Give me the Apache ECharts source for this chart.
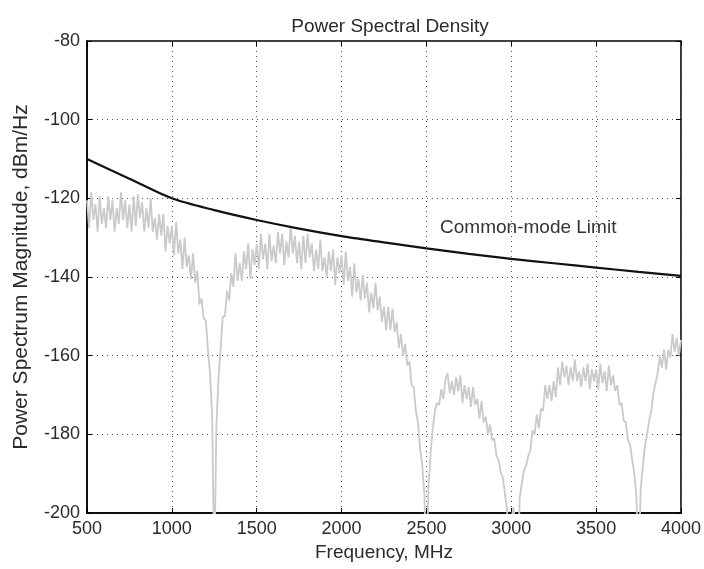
<!DOCTYPE html>
<html>
<head>
<meta charset="utf-8">
<script src="https://cdn.jsdelivr.net/npm/echarts@6/dist/echarts.min.js"></script>
<style>
html,body{margin:0;padding:0;background:#fff;}
#chart{width:704px;height:569px;}
</style>
</head>
<body>
<div id="chart"></div>
<script>
// Measured PSD trace, read at 12.5 MHz steps from 500 to 4000 MHz (dBm/Hz)
const psdStart = 500;
const psdStep = 12.5;
const psdValues = [
  -120.5,-127.5,-118.5,-125.5,-121.5,-128.5,-119.5,-126.5,-122.5,-127.5,
  -119.5,-125.5,-120.5,-128.5,-122.5,-126.5,-118.5,-125.5,-120.5,-127.5,
  -121.5,-128.5,-119.5,-127,-119,-125,-121,-128.5,-122.5,-127.5,
  -120,-128.5,-125,-130.5,-124,-129.5,-124,-133.5,-127,-131.5,
  -127,-134.5,-126,-134,-130.5,-138,-130,-137.5,-134.5,-140.5,
  -134,-141.5,-138.5,-147,-145.5,-150.5,-151,-158.5,-164.5,-175.5,
  -215,-178,-165.5,-158,-150,-150,-143.5,-146,-139,-142.5,
  -134,-141,-136.5,-141,-133.5,-138,-131.5,-140.5,-133,-137,
  -131.5,-138,-129,-135.5,-131.5,-138,-129,-136,-132,-136.5,
  -128.5,-134,-129,-137,-131,-135,-127,-134,-129.5,-136.5,
  -131,-138,-129.5,-136.5,-129,-135,-131.5,-138.5,-133,-138,
  -130.5,-138.5,-135,-140,-133.5,-138.5,-133,-142,-135,-139,
  -134.5,-142,-133.5,-141,-137.5,-145,-136.5,-144,-140.5,-146,
  -139.5,-145.5,-141.5,-149,-144,-148,-141.5,-148.5,-145,-151.5,
  -147.5,-153.5,-147.5,-153.5,-148,-154,-151.5,-158,-154.5,-160,
  -157,-162.5,-161.5,-167.5,-168,-174,-177,-183.5,-187.5,-195,
  -215,-193,-184.5,-178.5,-174,-172,-172.5,-168.5,-171,-166,
  -164.5,-169.5,-166.5,-170,-165.5,-169,-165,-172,-167.5,-171,
  -168,-173,-168,-172.5,-171,-176,-171.5,-177,-175.5,-180,
  -177.5,-181.5,-181,-185.5,-186.5,-189.5,-191,-195,-199,-215,
  -202,-198.5,-203,-215,-196,-192.5,-189,-188,-185.5,-184,
  -179,-180,-175,-178.5,-173.5,-174,-167.5,-171,-167.5,-171.5,
  -166.5,-170.5,-163,-167.5,-161.5,-165.5,-162.5,-167.5,-163,-166.5,
  -161,-166.5,-164,-168,-163,-166.5,-162,-168.5,-163.5,-166.5,
  -163.5,-168.5,-162,-167,-164,-169,-162.5,-167.5,-165,-169,
  -167.5,-172.5,-172,-176.5,-177,-181.5,-182.5,-186.5,-190,-196,
  -215,-194,-188,-183,-180,-176.5,-174,-169.5,-167,-164.5,
  -160,-163,-158.5,-163.5,-158.5,-160.5,-154.5,-159,-155.5,-160,
  -156
];
// Common-mode limit curve
const limitFreq = [500,750,1000,1250,1500,1750,2000,2250,2500,2750,3000,3250,3500,3750,4000];
const limitValues = [-110,-115,-120,-123,-125.5,-127.7,-129.6,-131.2,-132.7,-134.1,-135.4,-136.5,-137.6,-138.7,-139.7];
const xTicks = [500,1000,1500,2000,2500,3000,3500,4000];
const yTicks = [-200,-180,-160,-140,-120,-100,-80];
const titleText = 'Power Spectral Density';
const xName = 'Frequency, MHz';
const yName = 'Power Spectrum Magnitude, dBm/Hz';
const limitLabel = 'Common-mode Limit';
const labelAt = [3100, -127.5];

const psdData = psdValues.map((v, i) => [psdStart + i * psdStep, v]);
const limitData = limitFreq.map((f, i) => [f, limitValues[i]]);

const FONT = '"Liberation Sans", Arial, sans-serif';
const TXT = '#2a2a2a';
const chart = echarts.init(document.getElementById('chart'), null, {renderer: 'canvas'});
const splitStyle = {show: true, lineStyle: {color: '#555', width: 1, type: [1, 4]}};
chart.setOption({
  animation: false,
  backgroundColor: '#fff',
  title: {text: titleText, left: 385, top: 12, textAlign: 'center',
    textStyle: {fontFamily: FONT, fontSize: 19, fontWeight: 'normal', color: TXT}},
  grid: {left: 87, right: 20, top: 41, bottom: 56, show: true, borderColor: '#000', borderWidth: 1.5, backgroundColor: '#fff'},
  xAxis: [{
    type: 'value', min: 500, max: 4000, interval: 500,
    name: xName, nameLocation: 'middle', nameGap: 30,
    nameTextStyle: {fontFamily: FONT, fontSize: 19, color: TXT},
    axisLine: {show: true, lineStyle: {color: '#000', width: 1.5}},
    axisTick: {show: true, inside: true, length: 5, lineStyle: {color: '#000'}},
    axisLabel: {fontFamily: FONT, fontSize: 18, color: TXT, margin: 7,
      formatter: v => xTicks.includes(v) ? String(v) : ''},
    splitLine: splitStyle
  }, {
    type: 'value', min: 500, max: 4000, interval: 500, position: 'top',
    axisLine: {show: false}, axisLabel: {show: false}, splitLine: {show: false},
    axisTick: {show: true, inside: true, length: 5, lineStyle: {color: '#000'}}
  }],
  yAxis: [{
    type: 'value', min: -200, max: -80, interval: 20,
    name: yName, nameLocation: 'middle', nameGap: 55, nameRotate: 90,
    nameTextStyle: {fontFamily: FONT, fontSize: 21, color: TXT},
    axisLine: {show: true, lineStyle: {color: '#000', width: 1.5}},
    axisTick: {show: true, inside: true, length: 5, lineStyle: {color: '#000'}},
    axisLabel: {fontFamily: FONT, fontSize: 18, color: TXT, margin: 7,
      formatter: v => yTicks.includes(v) ? String(v) : ''},
    splitLine: splitStyle
  }, {
    type: 'value', min: -200, max: -80, interval: 20, position: 'right',
    axisLine: {show: false}, axisLabel: {show: false}, splitLine: {show: false},
    axisTick: {show: true, inside: true, length: 5, lineStyle: {color: '#000'}}
  }],
  series: [{
    type: 'line', data: psdData, xAxisIndex: 0, yAxisIndex: 0,
    symbol: 'none', clip: true,
    lineStyle: {color: '#cacaca', width: 1.8}
  }, {
    type: 'line', data: limitData, xAxisIndex: 0, yAxisIndex: 0,
    symbol: 'none', smooth: 0.3, clip: true,
    lineStyle: {color: '#111', width: 2.2},
    markPoint: {
      symbol: 'rect', symbolSize: [1, 1], itemStyle: {color: 'rgba(0,0,0,0)'},
      label: {show: true, position: 'inside', formatter: limitLabel,
        fontFamily: FONT, fontSize: 19, color: '#333'},
      data: [{coord: labelAt}]
    }
  }]
});
</script>
</body>
</html>
